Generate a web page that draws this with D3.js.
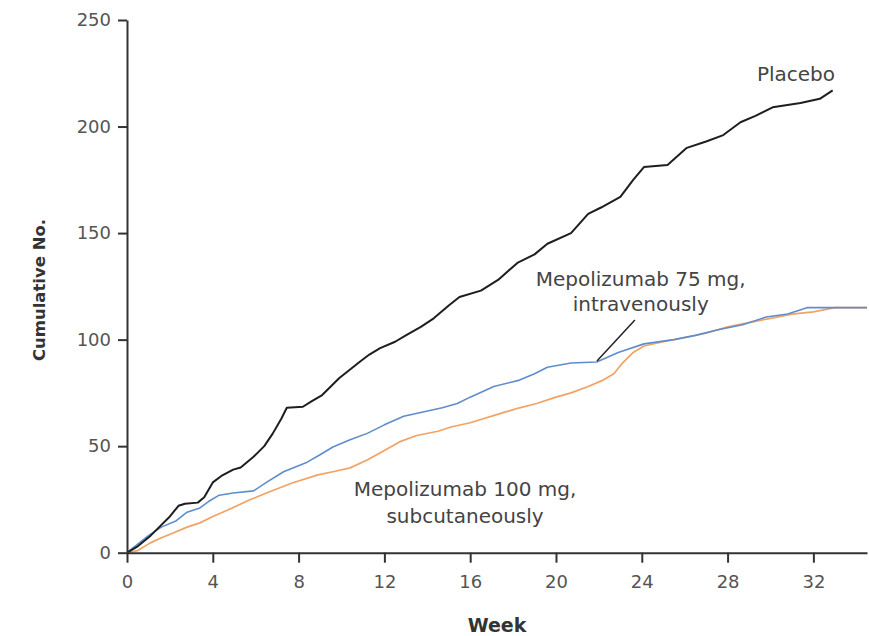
<!DOCTYPE html>
<html>
<head>
<meta charset="utf-8">
<script src="https://cdn.jsdelivr.net/npm/d3@7"></script>
<style>
  html, body { margin: 0; padding: 0; background: #fff; }
  svg { display: block; }
  text { font-family: "DejaVu Sans", sans-serif; }
</style>
</head>
<body>
<script>
// ---- data (week, cumulative number) ----
const placeboWeeks = [0,0.5,1.1,1.5,2.0,2.4,2.7,3.3,3.6,4.0,4.4,4.95,5.3,5.9,6.4,6.8,7.2,7.45,8.2,8.6,9.1,9.5,9.9,10.4,10.9,11.3,11.8,12.5,13.0,13.7,14.3,15.0,15.5,16.5,17.3,18.2,19.0,19.6,20.7,21.5,22.1,23.0,23.6,24.1,25.2,26.1,27.0,27.8,28.6,29.3,30.1,31.4,32.3,32.9];
const placeboValues = [0,3,8,12,17,22,23,23.5,26,33,36,39,40,45,50,56,63,68,68.5,71,74,78,82,86,90,93,96,99,102,106,110,116,120,123,128,136,140,145,150,159,162,167,175,181,182,190,193,196,202,205,209,211,213,217];

const ivWeeks = [0,0.5,1.0,1.6,2.3,2.8,3.4,3.8,4.3,4.95,5.9,6.5,7.3,8.4,9.0,9.6,10.4,11.2,12.0,12.9,13.8,14.7,15.4,16.0,17.1,18.3,19.0,19.6,20.7,21.9,22.9,24.1,25.5,26.5,27.5,28.7,29.8,30.8,31.7,33.0,34.5];
const ivValues = [0,4,8,12,15,19,21,24,27,28,29,33,38,42.5,46,49.6,53,56,60,64,66,68,70,73,78,81,84,87,89,89.5,94,98,100,102,104.5,107,110.6,112,115,115,115];

const scWeeks = [0,0.5,1.07,1.6,2.1,2.8,3.4,4.0,4.7,5.7,6.5,7.7,8.9,9.6,10.4,11.2,12.0,12.7,13.5,14.5,15.1,16.0,17.5,18.3,19.1,20.0,20.7,21.5,22.2,22.7,23.1,23.6,24.1,25.0,26.0,27.0,28.0,29.0,30.0,31.0,32.0,33.0,34.5];
const scValues = [0,1,4.5,7,9,12,14,17,20,24.7,28,32.7,36.5,38,39.8,43.5,48,52,55,57,59,61,65.6,68,70,73,75,78,81,84,89,94,97,99,101,103,106,108,110,112,113,115,115];

const xTicks = [0,4,8,12,16,20,24,28,32];
const yTicks = [0,50,100,150,200,250];
const xLabel = "Week";
const yLabel = "Cumulative No.";
const placeboLabel = ["Placebo"];
const ivLabel = ["Mepolizumab 75 mg,", "intravenously"];
const scLabel = ["Mepolizumab 100 mg,", "subcutaneously"];

// ---- layout ----
const W = 869, H = 636;
const x = d3.scaleLinear().domain([0, 34.5]).range([127, 867]);
const y = d3.scaleLinear().domain([0, 250]).range([552.7, 20]);

const svg = d3.select("body").append("svg").attr("width", W).attr("height", H);

const zip = (ws, vs) => ws.map((w, i) => [w, vs[i]]);
const line = d3.line().x(d => x(d[0])).y(d => y(d[1]));

// series
svg.append("path").datum(zip(scWeeks, scValues))
  .attr("d", line).attr("fill", "none").attr("stroke", "#f3a263").attr("stroke-width", 1.7).attr("stroke-linejoin", "round");
svg.append("path").datum(zip(ivWeeks, ivValues))
  .attr("d", line).attr("fill", "none").attr("stroke", "#5f8dcb").attr("stroke-width", 1.6).attr("stroke-linejoin", "round");
svg.append("path").datum(zip(placeboWeeks, placeboValues))
  .attr("d", line).attr("fill", "none").attr("stroke", "#1e1e1e").attr("stroke-width", 2).attr("stroke-linejoin", "round");

// axes
const xAxis = svg.append("g").attr("transform", `translate(0,${y(0)})`)
  .call(d3.axisBottom(x).tickValues(xTicks).tickSize(10).tickSizeOuter(0).tickPadding(13));
const yAxis = svg.append("g").attr("transform", `translate(${x(0)},0)`)
  .call(d3.axisLeft(y).tickValues(yTicks).tickSize(9).tickSizeOuter(0).tickPadding(7));

[xAxis, yAxis].forEach(g => {
  g.select(".domain").attr("stroke", "#333").attr("stroke-width", 2);
  g.selectAll(".tick line").attr("stroke", "#333").attr("stroke-width", 2);
  g.selectAll(".tick text").attr("font-family", "DejaVu Sans").attr("font-size", 18).attr("fill", "#555");
});

// axis titles
svg.append("text").attr("x", 497).attr("y", 632).attr("text-anchor", "middle")
  .attr("font-size", 19).attr("font-weight", "bold").attr("fill", "#333").text(xLabel);
svg.append("text").attr("transform", "translate(45,290) rotate(-90)").attr("text-anchor", "middle")
  .attr("font-size", 16.5).attr("font-weight", "bold").attr("fill", "#333").text(yLabel);

// annotations
function label(lines, wx, vy, dv) {
  lines.forEach((t, i) => {
    svg.append("text").attr("x", x(wx)).attr("y", y(vy - i * dv))
      .attr("text-anchor", "middle").attr("font-size", 20).attr("fill", "#444").text(t);
  });
}
label(placeboLabel, 31.19, 221.4, 0);
label(ivLabel, 23.95, 125.2, 11.8);
label(scLabel, 15.76, 26.6, 12.6);

// leader line for IV label
svg.append("line")
  .attr("x1", x(21.91)).attr("y1", y(90))
  .attr("x2", x(23.68)).attr("y2", y(109.2))
  .attr("stroke", "#222").attr("stroke-width", 1.5);
</script>
</body>
</html>
